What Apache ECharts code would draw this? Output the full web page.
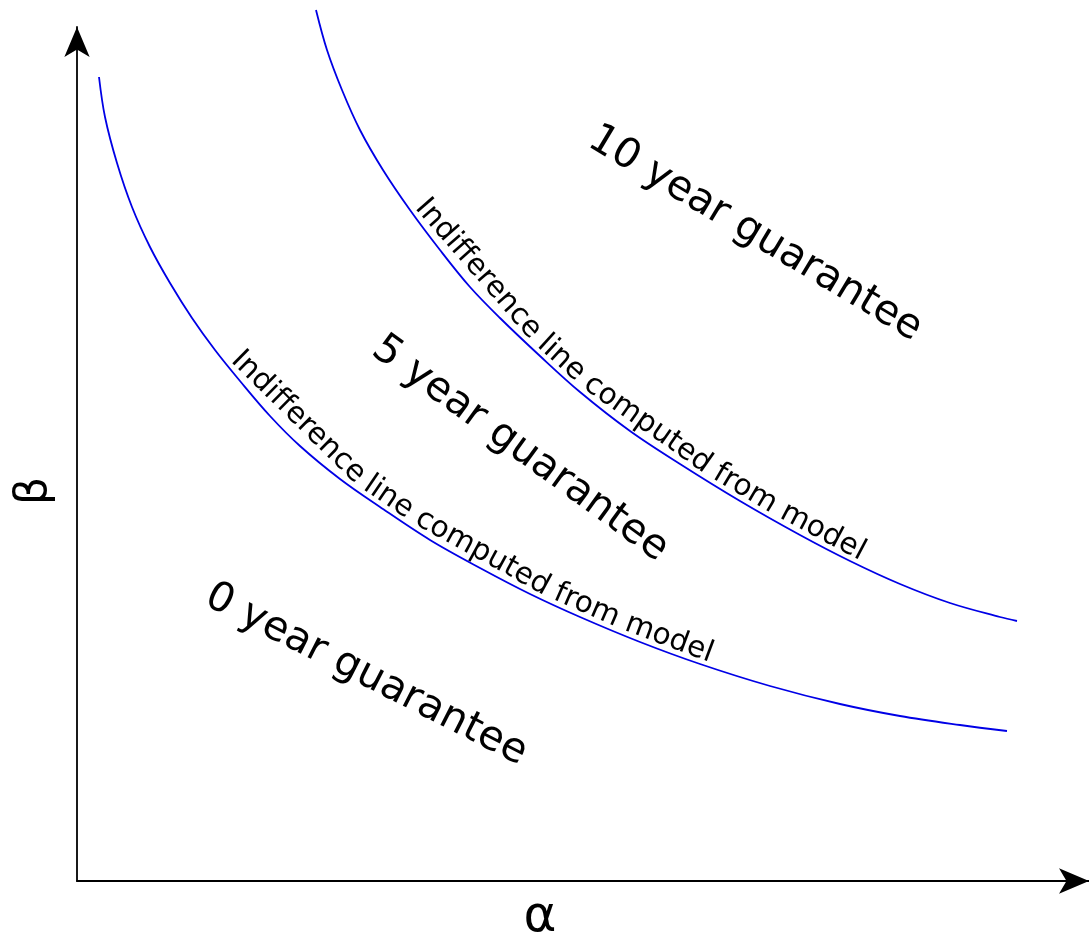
<!DOCTYPE html>
<html>
<head>
<meta charset="utf-8">
<script src="https://cdn.jsdelivr.net/npm/echarts@6/dist/echarts.min.js"></script>
<style>
  html, body { margin: 0; padding: 0; background: #ffffff; }
  #chart { width: 1089px; height: 940px; }
</style>
</head>
<body>
<div id="chart"></div>
<script>
// ---- data (alpha, beta in arbitrary model units) ----
const lowerAlpha = [22, 28, 40, 55, 73, 93, 115, 138, 163, 193, 223, 263, 303, 353, 403, 453, 503, 563, 623, 693, 763, 823, 883, 930];
const lowerBeta  = [804, 764, 718, 674, 634, 598, 563, 531, 500, 465, 435, 402, 374, 341, 313, 287, 264, 239, 217, 195, 177, 165, 156, 150];
const upperAlpha = [239, 250, 265, 283, 306, 333, 363, 393, 423, 463, 503, 553, 603, 663, 723, 773, 823, 873, 923, 940];
const upperBeta  = [871, 831, 791, 751, 711, 671, 631, 594, 563, 525, 489, 450, 417, 380, 346, 320, 297, 278, 264, 260];
const curveLabel = 'Indifference line computed from model';
const regionLabels = ['10 year guarantee', '5 year guarantee', '0 year guarantee'];
const axisNames = ['α', 'β'];

// ---- layout ----
const FONT = '"DejaVu Sans", "Noto Sans", sans-serif';
const regionAnchors = [[678, 647], [443, 432], [289, 206]]; // data coords of label centres
const regionAngles = [31, 36, 27];                           // degrees, clockwise
const curveLabelStart = [150, 334];                          // alpha where curve text starts (lower, upper)
const curveFontSize = 29.5;
const curveTextOffset = 12.5;

const chart = echarts.init(document.getElementById('chart'));

function zip(a, b) { return a.map((v, i) => [v, b[i]]); }

chart.setOption({
  backgroundColor: '#ffffff',
  animation: false,
  grid: { left: 77, right: 0, top: 27, bottom: 59, outerBoundsMode: 'none', containLabel: false },
  xAxis: {
    type: 'value', min: 0, max: 1012,
    name: axisNames[0], nameLocation: 'middle', nameGap: 12,
    nameTextStyle: { fontSize: 50, fontFamily: FONT, color: '#000', padding: [0, 86, 0, 0] },
    axisLine: { show: true, symbol: ['none', 'arrow'], symbolSize: [19, 30], lineStyle: { color: '#000', width: 1.8 } },
    axisTick: { show: false }, axisLabel: { show: false }, splitLine: { show: false }
  },
  yAxis: {
    type: 'value', min: 0, max: 854,
    name: axisNames[1], nameLocation: 'middle', nameRotate: 90, nameGap: 20,
    nameTextStyle: { fontSize: 44, fontFamily: FONT, color: '#000', padding: [0, 74, 0, 0] },
    axisLine: { show: true, symbol: ['none', 'arrow'], symbolSize: [19, 30], lineStyle: { color: '#000', width: 1.8 } },
    axisTick: { show: false }, axisLabel: { show: false }, splitLine: { show: false }
  },
  series: [
    { type: 'line', data: zip(lowerAlpha, lowerBeta), showSymbol: false, smooth: 0.35, clip: false,
      lineStyle: { color: '#0000e6', width: 1.8 } },
    { type: 'line', data: zip(upperAlpha, upperBeta), showSymbol: false, smooth: 0.35, clip: false,
      lineStyle: { color: '#0000e6', width: 1.8 } }
  ]
});

// ---- text along the curves ----
const measureCtx = document.createElement('canvas').getContext('2d');
measureCtx.font = curveFontSize + 'px ' + FONT;

function pixelPath(xs, ys) {
  return xs.map((x, i) => chart.convertToPixel({ gridIndex: 0 }, [x, ys[i]]));
}
function cumLengths(pts) {
  const c = [0];
  for (let i = 1; i < pts.length; i++) {
    c.push(c[i - 1] + Math.hypot(pts[i][0] - pts[i - 1][0], pts[i][1] - pts[i - 1][1]));
  }
  return c;
}
function pointAt(pts, cum, s) {
  let i = 0;
  while (i < cum.length - 2 && cum[i + 1] < s) i++;
  const seg = cum[i + 1] - cum[i];
  const t = seg > 0 ? (s - cum[i]) / seg : 0;
  return [pts[i][0] + (pts[i + 1][0] - pts[i][0]) * t, pts[i][1] + (pts[i + 1][1] - pts[i][1]) * t];
}
function arcAtAlpha(pts, cum, alpha) {
  const px = chart.convertToPixel({ gridIndex: 0 }, [alpha, 0])[0];
  for (let i = 0; i < pts.length - 1; i++) {
    if (pts[i + 1][0] >= px) {
      const t = (px - pts[i][0]) / (pts[i + 1][0] - pts[i][0]);
      return cum[i] + (cum[i + 1] - cum[i]) * t;
    }
  }
  return 0;
}
function curveText(xs, ys, startAlpha) {
  const pts = pixelPath(xs, ys);
  const cum = cumLengths(pts);
  let s = arcAtAlpha(pts, cum, startAlpha);
  const spaceW = measureCtx.measureText(' ').width;
  const els = [];
  curveLabel.split(' ').forEach(word => {
    const w = measureCtx.measureText(word).width;
    const A = pointAt(pts, cum, s);
    const B = pointAt(pts, cum, s + w);
    const ang = Math.atan2(B[1] - A[1], B[0] - A[0]);
    const nx = Math.sin(ang), ny = -Math.cos(ang);
    els.push({
      type: 'text',
      x: (A[0] + B[0]) / 2 + nx * curveTextOffset,
      y: (A[1] + B[1]) / 2 + ny * curveTextOffset,
      rotation: -ang,
      style: {
        text: word, font: curveFontSize + 'px ' + FONT, fill: '#000',
        textAlign: 'center', textVerticalAlign: 'middle', align: 'center', verticalAlign: 'middle'
      }
    });
    s += w + spaceW;
  });
  return els;
}

const graphics = [];
regionLabels.forEach((txt, i) => {
  const p = chart.convertToPixel({ gridIndex: 0 }, regionAnchors[i]);
  graphics.push({
    type: 'text', x: p[0], y: p[1], rotation: -regionAngles[i] * Math.PI / 180,
    style: {
      text: txt, font: '41px ' + FONT, fill: '#000',
      textAlign: 'center', textVerticalAlign: 'middle', align: 'center', verticalAlign: 'middle'
    }
  });
});
graphics.push(...curveText(lowerAlpha, lowerBeta, curveLabelStart[0]));
graphics.push(...curveText(upperAlpha, upperBeta, curveLabelStart[1]));

chart.setOption({ graphic: graphics });
</script>
</body>
</html>
